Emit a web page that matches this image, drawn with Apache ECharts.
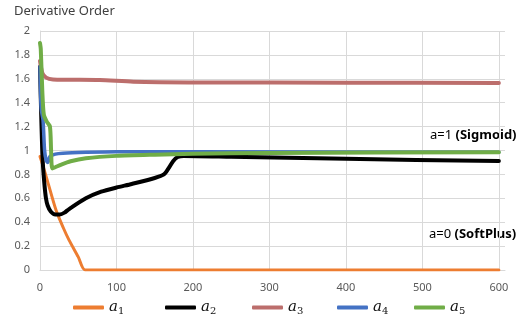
<!DOCTYPE html>
<html>
<head>
<meta charset="utf-8">
<script src="https://cdn.jsdelivr.net/npm/echarts@6/dist/echarts.min.js"></script>
<style>
  html, body { margin: 0; padding: 0; background: #fff; }
  #chart { width: 522px; height: 327px; }
</style>
</head>
<body>
<div id="chart"></div>
<script>
// Derivative order of each activation parameter over training steps
const a1X = [0, 2, 3.5, 10, 21, 30, 38, 50, 59, 100, 200, 300, 400, 500, 600];
const a1Y = [0.95, 0.91, 0.88, 0.74, 0.50, 0.36, 0.25, 0.11, 0, 0, 0, 0, 0, 0, 0];

const a2X = [0, 2, 3.5, 5.6, 7.8, 10, 14, 20, 26, 32, 38, 60, 80, 100, 120, 150, 162, 168, 174, 180, 188, 250, 400, 600];
const a2Y = [1.7, 1.2, 0.92, 0.73, 0.60, 0.54, 0.49, 0.465, 0.465, 0.48, 0.51, 0.60, 0.655, 0.69, 0.72, 0.77, 0.80, 0.85, 0.91, 0.945, 0.955, 0.948, 0.93, 0.912];

const a3X = [0, 3, 8, 17, 78, 122, 209, 400, 600];
const a3Y = [1.75, 1.65, 1.61, 1.595, 1.59, 1.576, 1.57, 1.567, 1.565];

const a4X = [0, 1.5, 4, 6, 8, 10, 13, 20, 30, 60, 100, 200, 600];
const a4Y = [1.7, 1.35, 1.25, 1.0, 0.92, 0.9, 0.95, 0.97, 0.978, 0.985, 0.99, 0.99, 0.985];

const a5X = [0, 1, 3, 5, 9, 13, 14.5, 16, 20, 27, 40, 60, 100, 150, 200, 300, 600];
const a5Y = [1.9, 1.85, 1.5, 1.3, 1.24, 1.2, 1.0, 0.85, 0.86, 0.88, 0.91, 0.935, 0.955, 0.965, 0.972, 0.98, 0.985];

const seriesNames = ['a1', 'a2', 'a3', 'a4', 'a5'];
const seriesColors = ['#ED7D31', '#000000', '#BC6E6C', '#4472C4', '#70AD47'];
const seriesWidths = [3, 4, 4, 3.5, 4];
const xsAll = [a1X, a2X, a3X, a4X, a5X];
const ysAll = [a1Y, a2Y, a3Y, a4Y, a5Y];
const legendLeft = [68, 160, 247, 332, 409];

const pairs = (xs, ys) => xs.map((x, i) => [x, ys[i]]);

const chart = echarts.init(document.getElementById('chart'), null, { renderer: 'canvas' });

const series = seriesNames.map((name, i) => ({
  name: name,
  type: 'line',
  data: pairs(xsAll[i], ysAll[i]),
  showSymbol: false,
  symbol: 'none',
  smooth: 0.25,
  lineStyle: { color: seriesColors[i], width: seriesWidths[i], cap: 'round', join: 'round' },
  itemStyle: { color: seriesColors[i] },
  emphasis: { disabled: true },
  animation: false
}));

const legends = seriesNames.map((name, i) => ({
  data: [{ name: name, icon: 'roundRect' }],
  left: legendLeft[i],
  top: 295,
  itemWidth: 31,
  itemHeight: 4,
  itemGap: 0,
  selectedMode: false,
  formatter: n => '{i|' + n.charAt(0) + '}{s|' + n.charAt(1) + '}',
  textStyle: {
    rich: {
      i: { fontFamily: 'DejaVu Serif', fontStyle: 'italic', fontSize: 15, color: '#111' },
      s: { fontFamily: 'DejaVu Serif', fontSize: 10, color: '#111', padding: [7, 0, 0, 0] }
    }
  }
}));

const xSplitColors = ['#d9d9d9', '#d9d9d9', '#d9d9d9', '#d9d9d9', '#d9d9d9', '#d9d9d9', '#d9d9d9', 'transparent'];

chart.setOption({
  animation: false,
  textStyle: { fontFamily: 'Noto Sans' },
  title: {
    text: 'Derivative Order',
    left: 9,
    top: 0,
    textStyle: { fontFamily: 'Noto Sans', fontSize: 13, fontWeight: 'normal', color: '#404040' }
  },
  grid: { left: 40, right: 17, top: 31, bottom: 57 },
  legend: legends,
  xAxis: {
    type: 'value',
    min: 0,
    max: 608,
    interval: 100,
    axisLine: { show: true, lineStyle: { color: '#d9d9d9', width: 1 } },
    axisTick: { show: false },
    axisLabel: { color: '#595959', fontSize: 11, margin: 12, showMaxLabel: false, fontFamily: 'Noto Sans' },
    splitLine: { show: true, lineStyle: { color: xSplitColors, width: 1 } }
  },
  yAxis: {
    type: 'value',
    min: 0,
    max: 2,
    interval: 0.2,
    axisLine: { show: true, lineStyle: { color: '#d9d9d9', width: 1 } },
    axisTick: { show: false },
    axisLabel: { color: '#595959', fontSize: 11, margin: 10, fontFamily: 'Noto Sans' },
    splitLine: { show: true, lineStyle: { color: '#d9d9d9', width: 1 } }
  },
  graphic: [
    {
      type: 'text',
      left: 430,
      top: 129,
      style: {
        text: '{n|a=1 }{b|(Sigmoid)}',
        rich: {
          n: { fontFamily: 'Noto Sans', fontSize: 13, color: '#222' },
          b: { fontFamily: 'Noto Sans', fontSize: 13, fontWeight: 'bold', color: '#222' }
        }
      }
    },
    {
      type: 'text',
      left: 429,
      top: 228,
      style: {
        text: '{n|a=0 }{b|(SoftPlus)}',
        rich: {
          n: { fontFamily: 'Noto Sans', fontSize: 13, color: '#222' },
          b: { fontFamily: 'Noto Sans', fontSize: 13, fontWeight: 'bold', color: '#222' }
        }
      }
    }
  ],
  series: series
});
</script>
</body>
</html>
